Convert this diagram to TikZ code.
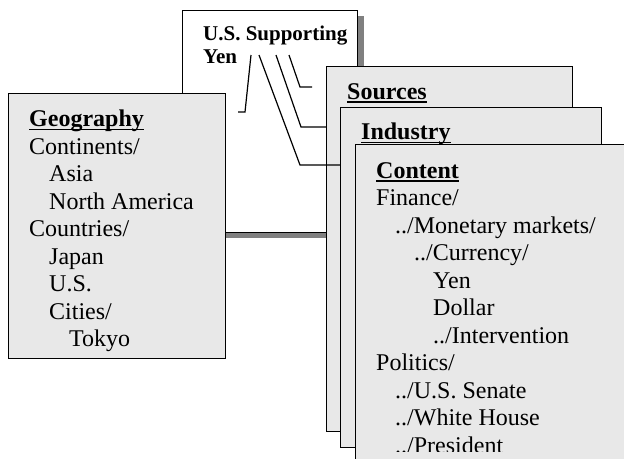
\documentclass[tikz,border=0pt]{standalone}
\usepackage{fontspec}
\setmainfont{Liberation Serif}
\usetikzlibrary{shadows}

\newsavebox{\headbox}
\newcommand{\headline}[1]{\sbox{\headbox}{\bfseries #1}\rlap{\rule[-3.5pt]{\wd\headbox}{1.4pt}}\usebox{\headbox}}

\tikzset{
  card/.style={draw, line width=1.4pt, fill=gray!18, anchor=north west, inner sep=0pt},
  topiccard/.style={draw, line width=1.4pt, fill=white, anchor=north west, inner sep=0pt,
    drop shadow={shadow xshift=6pt, shadow yshift=-5pt, fill=gray, opacity=1}},
  cardtext/.style={anchor=north west, inner sep=0pt, align=left, font=\fontsize{24}{27.5}\selectfont},
  link/.style={line width=1.2pt}
}

\begin{document}
\begin{tikzpicture}[x=1pt, y=-1pt]
\clip (0,0) rectangle (624,458);

% topic card
\node[topiccard, minimum width=175pt, minimum height=222pt] (topic) at (182,10) {};
\node[cardtext, font=\fontsize{21}{23}\selectfont\bfseries] (topictext) at ([shift={(21,16)}]topic.north west) {U.S. Supporting\\Yen};

% geography card
\node[card, minimum width=217pt, minimum height=265pt] (geo) at (8,93) {};
\node[cardtext] (geotext) at ([shift={(21,17)}]geo.north west) {\headline{Geography}\\
  Continents/\\
  \hspace*{20pt}Asia\\
  \hspace*{20pt}North America\\
  Countries/\\
  \hspace*{20pt}Japan\\
  \hspace*{20pt}U.S.\\
  \hspace*{20pt}Cities/\\
  \hspace*{40pt}Tokyo};

% sources card
\node[card, minimum width=246pt, minimum height=365pt] (src) at (326,66) {};
\node[cardtext] (srctext) at ([shift={(21,17)}]src.north west) {\headline{Sources}};

% industry card
\node[card, minimum width=261pt, minimum height=340pt] (ind) at (340,107) {};
\node[cardtext] (indtext) at ([shift={(21,16)}]ind.north west) {\headline{Industry}};

% links
\coordinate (t1) at (251,55);
\coordinate (t2) at (259,55);
\coordinate (t3) at (276,55);
\coordinate (t4) at (289,55);
\coordinate (geoend) at (238,112);
\coordinate (srcend) at (312,87);
\draw[link] (t1) -- (245,112) -- (geoend);
\draw[link] (t4) -- (300,87) -- (srcend);
\draw[link] (t3) -- (301,127) -- (301,127 -| src.west);
\draw[link] (t2) -- (300,165) -- (300,165 -| ind.west);

% content card, its last line cut off at the bottom
\node[card, minimum width=300pt, minimum height=340pt] (cont) at (355,144) {};
\begin{scope}
\clip (0,0) rectangle (624,451);
\node[cardtext] (conttext) at ([shift={(21,18)}]cont.north west) {\headline{Content}\\
  Finance/\\
  \hspace*{19pt}../Monetary markets/\\
  \hspace*{38pt}../Currency/\\
  \hspace*{57pt}Yen\\
  \hspace*{57pt}Dollar\\
  \hspace*{57pt}../Intervention\\
  Politics/\\
  \hspace*{19pt}../U.S. Senate\\
  \hspace*{19pt}../White House\\
  \hspace*{19pt}../President};
\end{scope}

\end{tikzpicture}
\end{document}
